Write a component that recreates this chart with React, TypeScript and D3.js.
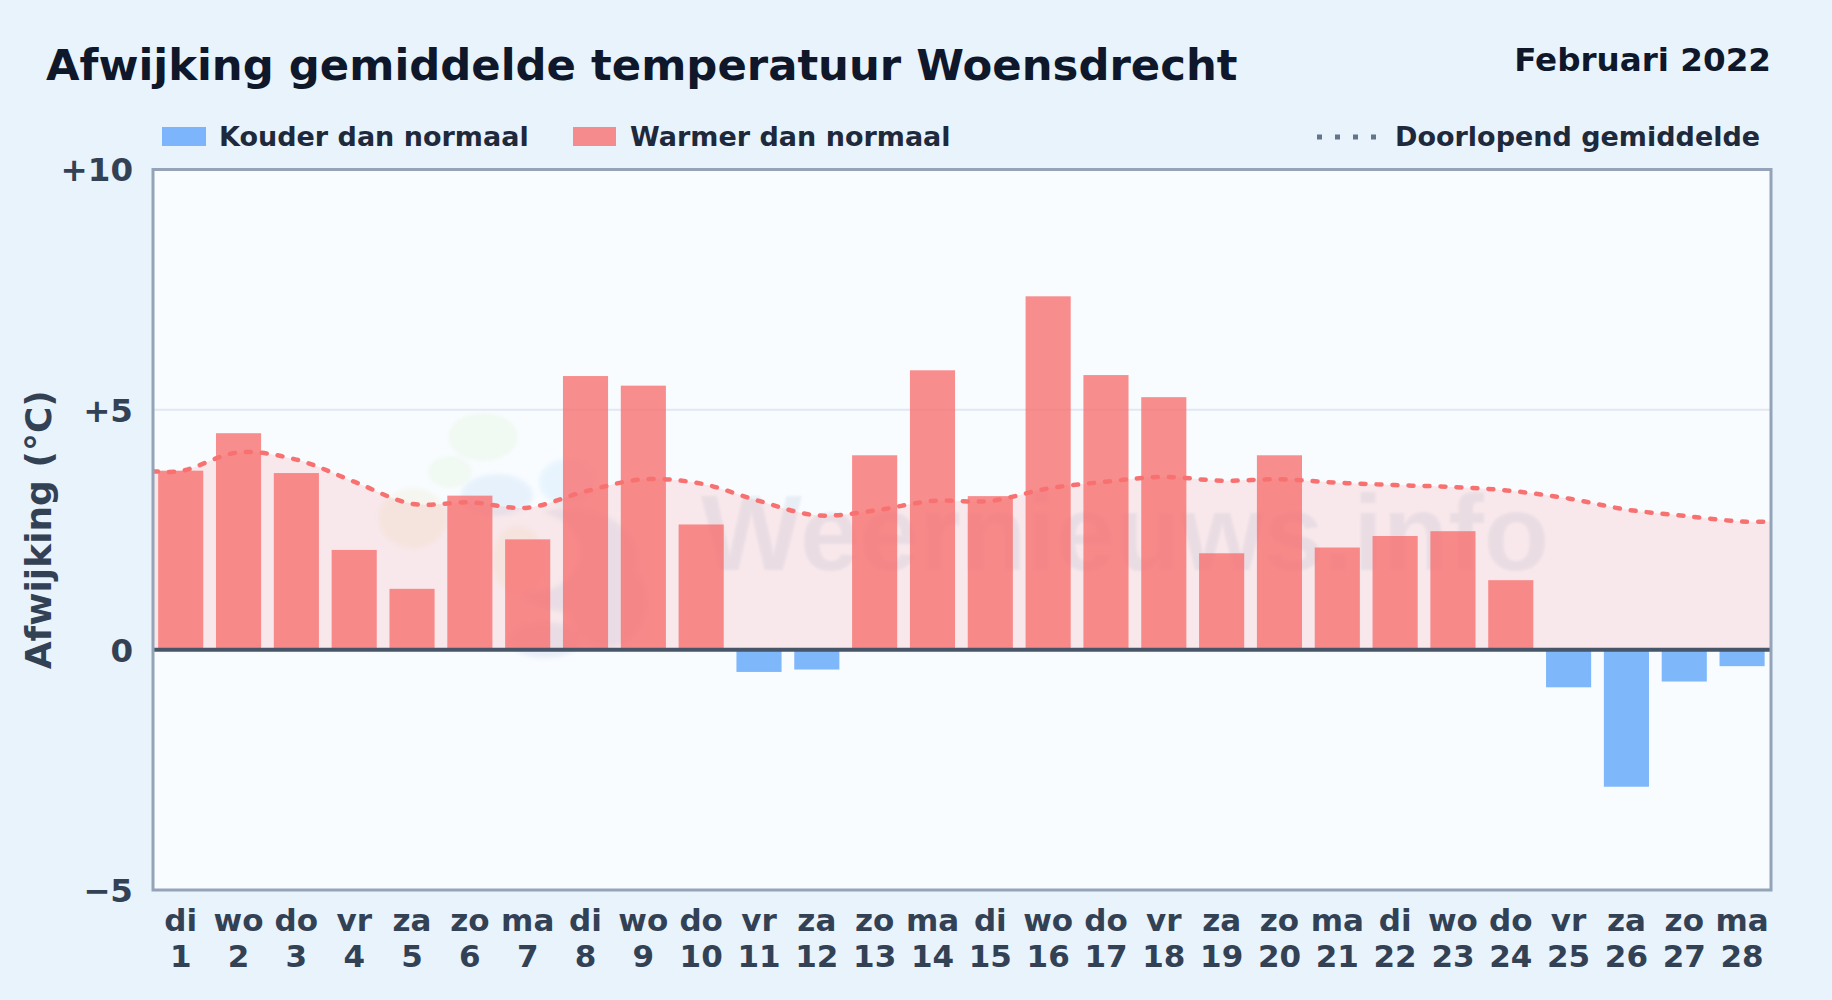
import React, { useEffect, useRef } from 'react';
import * as d3 from 'd3';

const WIDTH = 1832;
const HEIGHT = 1000;

const weekdays = ['di', 'wo', 'do', 'vr', 'za', 'zo', 'ma', 'di', 'wo', 'do', 'vr', 'za', 'zo', 'ma', 'di', 'wo', 'do', 'vr', 'za', 'zo', 'ma', 'di', 'wo', 'do', 'vr', 'za', 'zo', 'ma'];
const days = d3.range(1, 29);
const deviations = [3.73, 4.51, 3.68, 2.08, 1.27, 3.21, 2.3, 5.7, 5.5, 2.61, -0.46, -0.41, 4.05, 5.82, 3.2, 7.36, 5.72, 5.26, 2.01, 4.05, 2.13, 2.37, 2.47, 1.45, -0.78, -2.85, -0.66, -0.34];
const runningMean = [3.72, 4.11, 3.96, 3.5, 3.04, 3.07, 2.96, 3.3, 3.55, 3.46, 3.1, 2.8, 2.9, 3.1, 3.1, 3.36, 3.5, 3.6, 3.52, 3.55, 3.48, 3.43, 3.39, 3.31, 3.15, 2.92, 2.79, 2.67];
const yTicks = [-5, 0, 5, 10];

const margin = { top: 169.5, right: 61, bottom: 110, left: 153 };

const App: React.FC = () => {
  const svgRef = useRef<SVGSVGElement | null>(null);

  useEffect(() => {
    if (!svgRef.current) return;
    const svg = d3.select(svgRef.current);
    svg.selectAll('*').remove();

    const left = margin.left;
    const right = WIDTH - margin.right;
    const top = margin.top;
    const bottom = HEIGHT - margin.bottom;

    const x = d3.scaleBand<number>().domain(days).range([left - 1.2, right]).paddingInner(0.22).paddingOuter(0.11);
    const y = d3.scaleLinear().domain([-5, 10]).range([bottom, top]);
    const cx = (d: number) => (x(d) as number) + x.bandwidth() / 2;

    // background
    svg.append('rect').attr('width', WIDTH).attr('height', HEIGHT).attr('fill', '#e8f3fc');
    svg.append('rect').attr('x', left).attr('y', top).attr('width', right - left).attr('height', bottom - top).attr('fill', '#f8fcff');

    const defs = svg.append('defs');
    const clipId = 'plot-clip';
    defs.append('clipPath').attr('id', clipId).append('rect')
      .attr('x', left).attr('y', top).attr('width', right - left).attr('height', bottom - top);
    defs.append('filter').attr('id', 'soft').append('feGaussianBlur').attr('stdDeviation', 2);
    defs.append('filter').attr('id', 'soft-text').append('feGaussianBlur').attr('stdDeviation', 1.2);

    // gridline at +5
    svg.append('line')
      .attr('x1', left).attr('x2', right)
      .attr('y1', y(5)).attr('y2', y(5))
      .attr('stroke', '#e2e8f0').attr('stroke-width', 2);

    // Watermark: faded logo and site name
    const logo = svg.append('g').attr('opacity', 0.1).attr('filter', 'url(#soft)');
    const blobs: [number, number, number, number, string][] = [
      [483, 437, 35, 24, '#b5e08a'],
      [450, 472, 22, 16, '#b5e08a'],
      [413, 518, 34, 30, '#e2c46e'],
      [570, 560, 68, 52, '#5f7fb8'],
      [607, 602, 40, 46, '#5f7fb8'],
      [545, 640, 36, 18, '#5f7fb8'],
      [497, 495, 36, 21, '#5d9be0'],
      [567, 482, 28, 23, '#63b8f0'],
      [530, 552, 50, 40, '#ffffff'],
      [518, 560, 26, 34, '#ecc96a'],
    ];
    logo.selectAll('ellipse').data(blobs).join('ellipse')
      .attr('cx', (d) => d[0]).attr('cy', (d) => d[1])
      .attr('rx', (d) => d[2]).attr('ry', (d) => d[3])
      .attr('fill', (d) => d[4]);
    svg.append('text')
      .attr('x', 701).attr('y', 570)
      .attr('font-family', 'Liberation Sans').attr('font-size', 107).attr('font-weight', 700)
      .attr('fill', '#5f7fb0').attr('opacity', 0.1).attr('filter', 'url(#soft-text)')
      .text('Weernieuws.info');

    // Area and line of the running mean, carried on to the plot edges
    const lineData: [number, number][] = [
      [left, runningMean[0]],
      ...days.map((d, i): [number, number] => [cx(d), runningMean[i]]),
      [right, runningMean[runningMean.length - 1]],
    ];
    const area = d3.area<[number, number]>()
      .x((d) => d[0]).y0(y(0)).y1((d) => y(d[1]))
      .curve(d3.curveCatmullRom.alpha(0.5));
    const line = d3.line<[number, number]>()
      .x((d) => d[0]).y((d) => y(d[1]))
      .curve(d3.curveCatmullRom.alpha(0.5));

    svg.append('path').datum(lineData)
      .attr('d', area).attr('fill', '#f87171').attr('fill-opacity', 0.14)
      .attr('clip-path', `url(#${clipId})`);

    // Bars
    svg.append('g').selectAll('rect').data(days).join('rect')
      .attr('x', (d) => x(d) as number)
      .attr('width', x.bandwidth())
      .attr('y', (d, i) => y(Math.max(0, deviations[i])))
      .attr('height', (d, i) => Math.abs(y(deviations[i]) - y(0)))
      .attr('fill', (d, i) => (deviations[i] >= 0 ? '#f87171' : '#60a5fa'))
      .attr('fill-opacity', 0.8);

    svg.append('path').datum(lineData)
      .attr('d', line).attr('fill', 'none')
      .attr('stroke', '#f87171').attr('stroke-width', 4.5)
      .attr('stroke-dasharray', '5 11').attr('stroke-linecap', 'round')
      .attr('clip-path', `url(#${clipId})`);

    // zero line
    svg.append('line')
      .attr('x1', left).attr('x2', right)
      .attr('y1', y(0)).attr('y2', y(0))
      .attr('stroke', '#475569').attr('stroke-width', 4);

    // plot frame
    svg.append('rect').attr('x', left).attr('y', top).attr('width', right - left).attr('height', bottom - top)
      .attr('fill', 'none').attr('stroke', '#94a3b8').attr('stroke-width', 3);

    // y axis
    const yAxis = d3.axisLeft(y).tickValues(yTicks).tickSize(0).tickPadding(20)
      .tickFormat((d) => {
        const v = Number(d);
        if (v > 0) return `+${v}`;
        if (v < 0) return `\u2212${Math.abs(v)}`;
        return '0';
      });
    const yG = svg.append('g').attr('transform', `translate(${left},1)`).call(yAxis);
    yG.select('.domain').remove();
    yG.selectAll('text')
      .attr('font-family', 'DejaVu Sans').attr('font-size', 32.5).attr('font-weight', 700).attr('fill', '#334155');

    // x axis, two lines per day
    const xAxis = d3.axisBottom(x).tickSize(0).tickFormat(() => '');
    const xG = svg.append('g').attr('transform', `translate(0,${bottom})`).call(xAxis);
    xG.select('.domain').remove();
    xG.selectAll<SVGGElement, number>('.tick text').each(function (d) {
      const t = d3.select(this);
      t.attr('font-family', 'DejaVu Sans').attr('font-size', 31).attr('font-weight', 700).attr('fill', '#334155').attr('y', 0).attr('dy', null);
      t.append('tspan').attr('x', 0).attr('y', 40.5).text(weekdays[d - 1]);
      t.append('tspan').attr('x', 0).attr('y', 76.5).text(String(d));
    });

    // y title
    svg.append('text')
      .attr('transform', `translate(51,${(y(10) + y(-5)) / 2}) rotate(-90)`)
      .attr('text-anchor', 'middle')
      .attr('font-family', 'DejaVu Sans').attr('font-size', 36).attr('font-weight', 700).attr('fill', '#334155')
      .text('Afwijking (°C)');

    // titles
    svg.append('text').attr('x', 46).attr('y', 80)
      .attr('font-family', 'DejaVu Sans').attr('font-size', 43.35).attr('font-weight', 700).attr('fill', '#0f172a')
      .text('Afwijking gemiddelde temperatuur Woensdrecht');
    svg.append('text').attr('x', 1771).attr('y', 71).attr('text-anchor', 'end')
      .attr('font-family', 'DejaVu Sans').attr('font-size', 32.6).attr('font-weight', 700).attr('fill', '#0f172a')
      .text('Februari 2022');

    // legend
    const legendText = (tx: number, label: string) => svg.append('text').attr('x', tx).attr('y', 146)
      .attr('font-family', 'DejaVu Sans').attr('font-size', 27).attr('font-weight', 700).attr('fill', '#1e293b')
      .text(label);
    svg.append('rect').attr('x', 162).attr('y', 127).attr('width', 44).attr('height', 19).attr('fill', '#60a5fa').attr('fill-opacity', 0.8);
    legendText(219, 'Kouder dan normaal');
    svg.append('rect').attr('x', 573).attr('y', 127).attr('width', 43).attr('height', 19).attr('fill', '#f87171').attr('fill-opacity', 0.8);
    legendText(630, 'Warmer dan normaal');
    svg.append('line').attr('x1', 1317).attr('x2', 1376).attr('y1', 137).attr('y2', 137)
      .attr('stroke', '#64748b').attr('stroke-width', 5).attr('stroke-dasharray', '5 13');
    legendText(1395, 'Doorlopend gemiddelde');
  }, []);

  return (
    <svg
      ref={svgRef}
      width={WIDTH}
      height={HEIGHT}
      viewBox={`0 0 ${WIDTH} ${HEIGHT}`}
      style={{ position: 'fixed', left: 0, top: 0, display: 'block' }}
    />
  );
};

export default App;
